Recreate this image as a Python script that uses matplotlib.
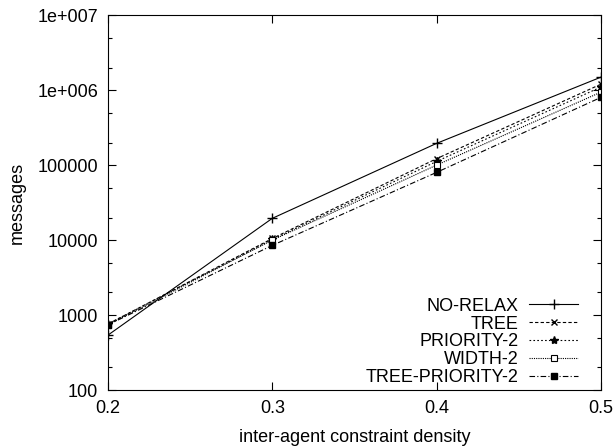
import matplotlib.pyplot as plt
from matplotlib.ticker import FixedLocator, FixedFormatter, LogLocator, NullFormatter

plt.rcParams['font.family'] = ['Liberation Sans', 'DejaVu Sans']

density = [0.2, 0.3, 0.4, 0.5]
no_relax = [540, 19500, 195000, 1490000]
tree = [760, 10500, 122000, 1200000]
priority2 = [760, 10200, 112000, 1100000]
width2 = [740, 10000, 100000, 940000]
tree_priority2 = [740, 8500, 80000, 800000]

yticks = [100, 1000, 10000, 100000, 1000000, 10000000]
ylabels = ["100", "1000", "10000", "100000", "1e+006", "1e+007"]
xticks = [0.2, 0.3, 0.4, 0.5]
xlabels = ["0.2", "0.3", "0.4", "0.5"]

fig = plt.figure(figsize=(6.15, 4.47), dpi=100)
ax = fig.add_axes([0.1756, 0.1275, 0.8014, 0.8385])

lw = 0.8
ax.plot(density, no_relax, color='black', lw=lw, ls='-', marker='+', ms=7, label='NO-RELAX')
ax.plot(density, tree, color='black', lw=lw, ls=(0, (3, 2)), marker='x', ms=5, label='TREE')
ax.plot(density, priority2, color='black', lw=lw, ls=(0, (1.5, 2)), marker='*', ms=6, label='PRIORITY-2')
ax.plot(density, width2, color='black', lw=lw, ls=(0, (1, 1)), marker='s', ms=5, mfc='white', mew=0.8, label='WIDTH-2')
ax.plot(density, tree_priority2, color='black', lw=lw, ls=(0, (5, 2, 1, 2)), marker='s', ms=5, label='TREE-PRIORITY-2')

ax.set_yscale('log')
ax.set_xlim(0.2, 0.5)
ax.set_ylim(100, 1e7)
ax.yaxis.set_major_locator(FixedLocator(yticks))
ax.yaxis.set_major_formatter(FixedFormatter(ylabels))
ax.yaxis.set_minor_locator(LogLocator(base=10, subs=(2, 5)))
ax.yaxis.set_minor_formatter(NullFormatter())
ax.xaxis.set_major_locator(FixedLocator(xticks))
ax.xaxis.set_major_formatter(FixedFormatter(xlabels))

ax.tick_params(which='both', direction='in', top=True, right=True, labelsize=13, width=0.8)
ax.tick_params(which='major', length=6, pad=7)
ax.tick_params(which='minor', length=3)
for s in ax.spines.values():
    s.set_linewidth(0.8)

ax.set_xlabel('inter-agent constraint density', fontsize=13, labelpad=9)
ax.set_ylabel('messages', fontsize=13, labelpad=8)

ax.legend(loc='lower right', bbox_to_anchor=(0.976, -0.019), frameon=False,
          markerfirst=False, fontsize=13, handlelength=2.7, labelspacing=0.05,
          borderaxespad=0.3, borderpad=0.3, handletextpad=0.6)

fig.savefig('out.png', dpi=100)
